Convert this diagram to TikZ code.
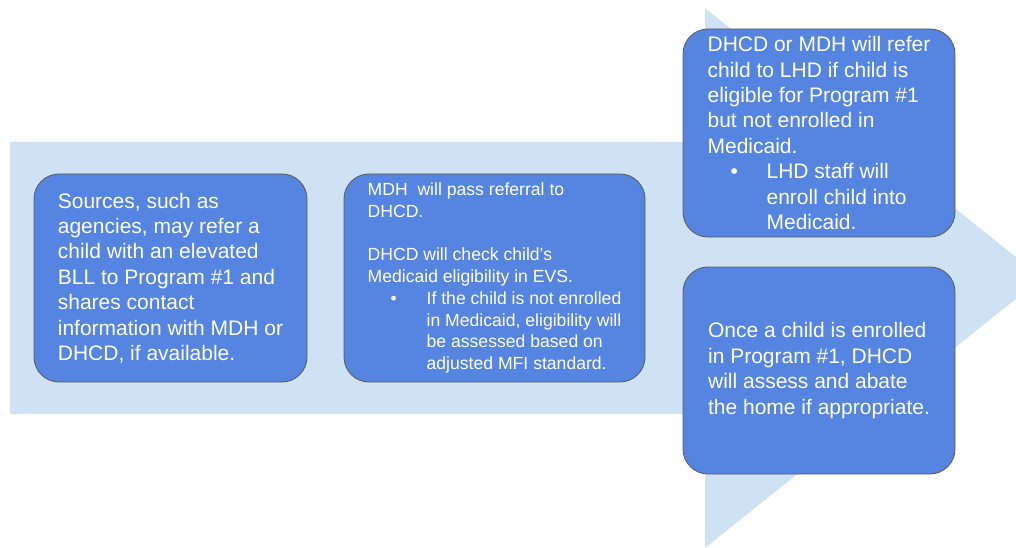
\documentclass[tikz,border=0pt]{standalone}
\usepackage{fontspec}
\setmainfont{Liberation Sans}

\definecolor{arrowbg}{HTML}{CFE2F3}
\definecolor{boxfill}{HTML}{5585E0}
\definecolor{boxline}{HTML}{5F5F5F}

\newcommand{\bitem}{\hspace*{23pt}\makebox[36pt][l]{\textbullet}}
\newcommand{\bindent}{\hspace*{59pt}}

\tikzset{
  stepbox/.style={draw=boxline, line width=0.9pt, fill=boxfill,
    rounded corners=25pt, text=white, align=left, inner sep=0pt},
  bigtext/.style={font=\fontsize{21}{25.4}\selectfont},
  smalltext/.style={font=\fontsize{17.6}{21.8}\selectfont}
}

\begin{document}
\begin{tikzpicture}[x=1pt,y=-1pt]
  \useasboundingbox (0,0) rectangle (1016,548);
  \clip (0,0) rectangle (1016,548);

  % background arrow
  \fill[arrowbg] (10,142) -- (705,142) -- (705,8) -- (1042,278)
    -- (705,548) -- (705,414) -- (10,414) -- cycle;

  \node[stepbox, bigtext, minimum width=273pt, minimum height=208pt] (src) at (170.5,278)
    {Sources, such as\\agencies, may refer a\\child with an elevated\\BLL to Program \#1 and\\shares contact\\information with MDH or\\DHCD, if available.};

  \node[stepbox, smalltext, minimum width=301pt, minimum height=208pt] (pass) at (494.5,278)
    {MDH\ \ will pass referral to\\DHCD.\\[21.8pt]
     DHCD will check child’s\\Medicaid eligibility in EVS.\\
     \bitem If the child is not enrolled\\\bindent in Medicaid, eligibility will\\\bindent be assessed based on\\\bindent adjusted MFI standard.};

  \node[stepbox, bigtext, minimum width=272pt, minimum height=208pt] (refer) at (819,133)
    {DHCD or MDH will refer\\child to LHD if child is\\eligible for Program \#1\\but not enrolled in\\Medicaid.\\
     \bitem LHD staff will\\\bindent enroll child into\\\bindent Medicaid.};

  \node[stepbox, bigtext, minimum width=272pt, minimum height=207pt] (abate) at (819,370.5)
    {Once a child is enrolled\\in Program \#1, DHCD\\will assess and abate\\the home if appropriate.};
\end{tikzpicture}
\end{document}
